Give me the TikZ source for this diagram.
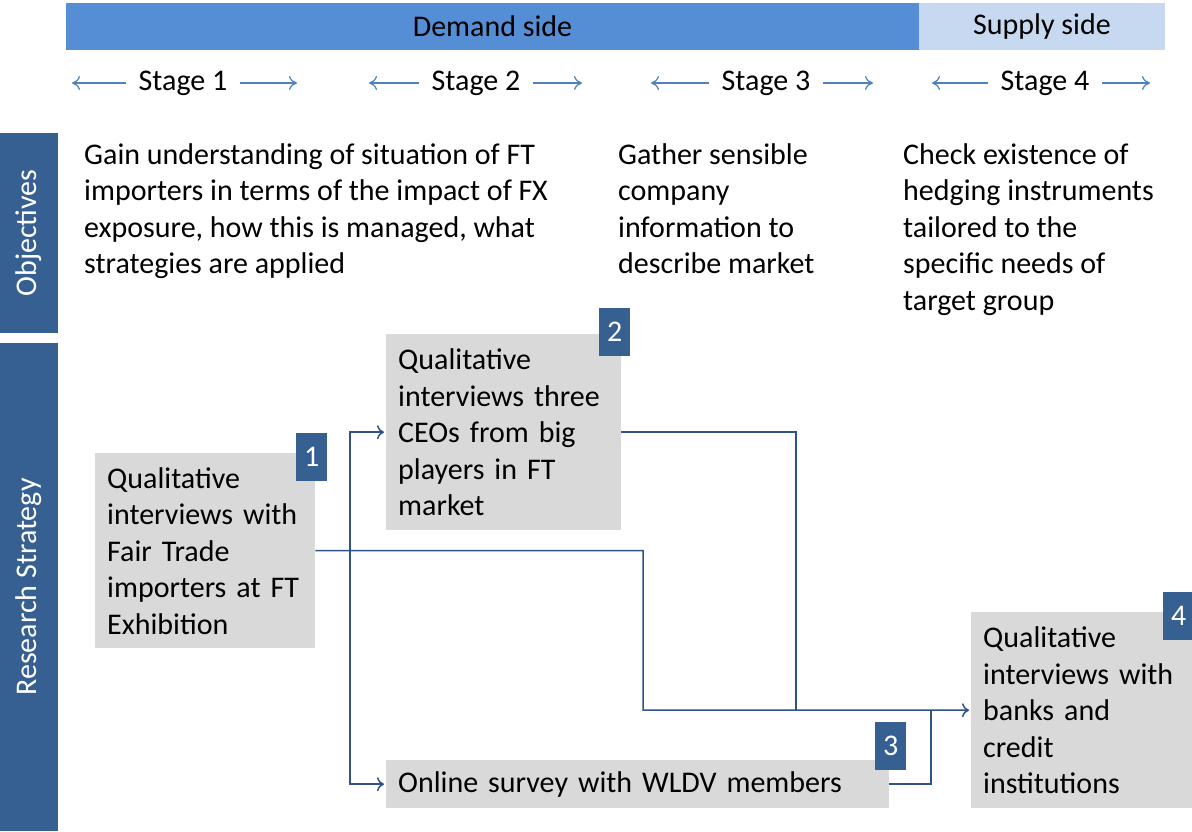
\documentclass[tikz,border=0pt]{standalone}
\usepackage{fontspec}
\setmainfont{Carlito}
\usepackage{tikz}
\usetikzlibrary{calc}
\usetikzlibrary{positioning}
\usetikzlibrary{arrows.meta}
\definecolor{demand}{RGB}{85,142,213}
\definecolor{supply}{RGB}{198,217,241}
\definecolor{tabblue}{RGB}{55,96,146}
\definecolor{linkblue}{RGB}{47,82,135}
\definecolor{stageblue}{RGB}{79,129,189}
\definecolor{boxgrey}{RGB}{217,217,217}

\begin{document}
\begin{tikzpicture}[x=1pt,y=-1pt,
                    every node/.style={font=\fontsize{30}{36.5}\selectfont},
                    band/.style={fill=#1,minimum height=47,inner sep=0},
                    stage/.style={inner xsep=12},
                    sidetab/.style={fill=tabblue,text=white,minimum width=58,inner sep=0},
                    greybox/.style={fill=boxgrey,align=left,inner xsep=12,inner ysep=0,
                                    anchor=north west},
                    numtag/.style={fill=tabblue,text=white,minimum width=31,minimum height=48,
                                   inner sep=0,anchor=north west},
                    stagearr/.style={draw=stageblue,line width=1.2,-{To[length=8,width=14]}},
                    flow/.style={draw=linkblue,line width=1.5},
                    objtext/.style={align=left,anchor=north west,inner sep=0}]
 \useasboundingbox (0,0) rectangle (1192,831);
 \node[band=demand,minimum width=853] (demand) at (492.5,26.5) {Demand side};
 \node[band=supply,minimum width=246] (supply) at (1042,26.5) {Supply side};

 \node[stage] (s1) at (183,83) {Stage 1};
 \node[stage] (s2) at (476,83) {Stage 2};
 \node[stage] (s3) at (766,83) {Stage 3};
 \node[stage] (s4) at (1045,83) {Stage 4};
 \coordinate (s1l) at (72,83);  \coordinate (s1r) at (297,83);
 \coordinate (s2l) at (369,83); \coordinate (s2r) at (582,83);
 \coordinate (s3l) at (651,83); \coordinate (s3r) at (873,83);
 \coordinate (s4l) at (932,83); \coordinate (s4r) at (1150,83);
 \draw[stagearr] (s1.west) -- (s1l);
 \draw[stagearr] (s1.east) -- (s1r);
 \draw[stagearr] (s2.west) -- (s2l);
 \draw[stagearr] (s2.east) -- (s2r);
 \draw[stagearr] (s3.west) -- (s3l);
 \draw[stagearr] (s3.east) -- (s3r);
 \draw[stagearr] (s4.west) -- (s4l);
 \draw[stagearr] (s4.east) -- (s4r);

 \node[sidetab,minimum height=200] (objtab) at (29,233)
      {\rotatebox{90}{Objectives}};
 \node[sidetab,minimum height=488] (stratab) at (29,587)
      {\rotatebox{90}{Research Strategy}};

 \node[objtext] (obj1) at (84,143)
      {Gain understanding of situation of FT\\
       importers in terms of the impact of FX\\
       exposure, how this is managed, what\\
       strategies are applied};
 \node[objtext] (obj3) at (618,143)
      {Gather sensible\\ company\\ information to\\ describe market};
 \node[objtext] (obj4) at (903,143)
      {Check existence of\\ hedging instruments\\ tailored to the\\
       specific needs of\\ target group};

 \node[greybox,minimum width=220,minimum height=195,text width=196] (b1) at (95,453)
      {Qualitative\\ interviews with\\ Fair Trade\\ importers at FT\\ Exhibition};
 \node[greybox,minimum width=235,minimum height=196,text width=211] (b2) at (386,334)
      {Qualitative\\ interviews three\\ CEOs from big\\ players in FT\\ market};
 \node[greybox,minimum width=503,minimum height=48,text width=479] (b3) at (386,760)
      {Online survey with WLDV members};
 \node[greybox,minimum width=221,minimum height=196,text width=197] (b4) at (971,612)
      {Qualitative\\ interviews with\\ banks and\\ credit\\ institutions};

 \node[numtag] (n1) at (296,433) {1};
 \node[numtag] (n2) at (599,308) {2};
 \node[numtag] (n3) at (875,722) {3};
 \node[numtag] (n4) at (1163,592) {4};

 \coordinate (fork) at (350,549);
 \coordinate (m1) at (643,710);
 \coordinate (m2) at (796,710);
 \coordinate (m3) at (931,710);
 \draw[flow,-{To[length=7,width=14]}] (b1.east) -| (m1) -- ([xshift=-2]b4.west);
 \draw[flow,-{To[length=7,width=14]}] (fork) |- ([xshift=-2]b2.west);
 \draw[flow,-{To[length=7,width=14]}] (fork) |- ([xshift=-2]b3.west);
 \draw[flow] (b2.east) -| (m2);
 \draw[flow] (b3.east) -| (m3);
\end{tikzpicture}
\end{document}
